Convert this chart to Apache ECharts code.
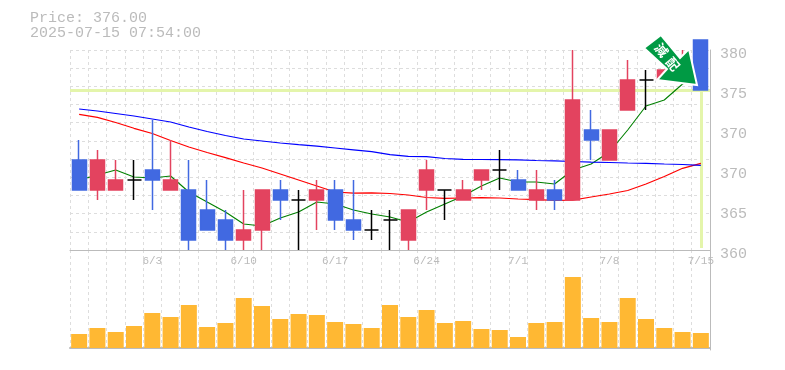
<!DOCTYPE html>
<html><head><meta charset="utf-8">
<style>html,body{margin:0;padding:0;background:#fff}#c{width:785px;height:370px}</style>
<script src="https://cdn.jsdelivr.net/npm/echarts@6/dist/echarts.min.js"></script>
</head><body><div id="c"></div>
<script>
const categories=['5/28','5/29','5/30','6/2','6/3','6/4','6/5','6/6','6/9','6/10','6/11','6/12','6/13','6/16','6/17','6/18','6/19','6/20','6/23','6/24','6/25','6/26','6/27','6/30','7/1','7/2','7/3','7/4','7/7','7/8','7/9','7/10','7/11','7/14','7/15'];
const opens =[369,366,366,367,368,366,366,364,363,361,362,366,365,365,366,363,362,363,361,366,366,365,367,368,367,365,366,365,372,369,374,377,377,378,381];
const closes=[366,369,367,367,367,367,361,362,361,362,366,365,365,366,363,362,362,363,364,368,366,366,368,368,366,366,365,375,371,372,377,377,378,379,376];
const lows  =[366,365,366,365,364,366,360,362,360,360,360,363,360,362,362,361,361,360,360,364,363,365,366,366,366,364,364,365,369,369,374,374,377,377,376];
const highs =[371,370,369,369,373,371,369,367,364,366,366,367,366,367,367,367,364,364,364,369,366,367,368,370,368,368,367,380,374,372,379,378,378,380,381];
const ma5 =[367.0,367.5,368.0,367.3,367.2,367.4,365.8,364.8,363.8,362.6,362.4,363.2,363.8,364.8,364.6,364.0,363.6,363.3,362.8,363.8,364.6,365.4,366.4,367.2,366.8,366.8,366.6,368.0,368.6,369.8,372.0,374.4,375.0,376.6,377.4];
const ma25=[373.57,373.27,372.75,372.17,371.65,370.95,370.3,369.75,369.23,368.7,368.2,367.6,367.0,366.4,365.8,365.68,365.72,365.65,365.5,365.25,365.17,365.2,365.23,365.2,365.1,365.04,364.97,364.98,365.3,365.6,365.95,366.6,367.35,368.17,368.67];
const ma75=[374.1,373.9,373.65,373.4,373.1,372.8,372.3,371.85,371.45,371.1,370.9,370.7,370.53,370.38,370.2,370.02,369.83,369.53,369.37,369.34,369.15,369.07,369.05,369.04,369.01,368.95,368.91,368.85,368.78,368.75,368.7,368.66,368.6,368.55,368.47];
const volumes=[14,20,16,22,35,31,43,21,25,50,42,29,34,33,26,24,20,43,31,38,25,27,19,18,11,25,26,71,30,26,50,29,20,16,15];
const priceTickLabels=['360','365','370','370','375','380'];
const currentPrice=376;
const titleLines=['Price: 376.00','2025-07-15 07:54:00'];

const RED='#e3435f',BLUE='#4169e1',GREY='#bbbbbb',GRID='#dddddd',MONO='"Liberation Mono",monospace';
const candleData=opens.map((o,i)=>{
  const item={value:[o,closes[i],lows[i],highs[i]]};
  if(o===closes[i]) item.itemStyle={color:'#000',color0:'#000',borderColor:'#000',borderColor0:'#000',borderColorDoji:'#000'};
  return item;
});
const vSplit={show:true,interval:0,lineStyle:{color:GRID,type:[3,3],width:1}};
const line=(name,data,color,width)=>({name,type:'line',data,symbol:'none',smooth:false,z:3,
  lineStyle:{color,width},silent:true,animation:false,clip:false});
const option={
  animation:false,backgroundColor:'#fff',
  title:{text:titleLines.join('\n'),left:25,top:6,textStyle:{fontFamily:MONO,fontSize:15,fontWeight:'normal',color:GREY,lineHeight:15}},
  grid:[{left:70,top:50,width:640,height:200,show:false},{left:70,top:250,width:640,height:100,show:false}],
  xAxis:[
    {type:'category',gridIndex:0,data:categories,boundaryGap:true,axisLine:{show:true,lineStyle:{color:GREY,width:1}},axisTick:{show:false},splitLine:vSplit,
     axisLabel:{show:true,interval:i=>i%5===4,color:GREY,fontFamily:MONO,fontSize:11,margin:6,hideOverlap:false}},
    {type:'category',gridIndex:1,data:categories,boundaryGap:true,axisLine:{show:true,lineStyle:{color:GREY,width:2}},axisTick:{show:false},axisLabel:{show:false},splitLine:vSplit}
  ],
  yAxis:[
    {type:'value',gridIndex:0,min:360,max:380,interval:4,position:'right',splitLine:{show:false},axisTick:{show:false},
     axisLine:{show:true,lineStyle:{color:GREY,width:1}},
     axisLabel:{color:GREY,fontFamily:MONO,fontSize:15,margin:10,verticalAlign:'top',lineHeight:8,formatter:v=>priceTickLabels[Math.round((v-360)/4)]}},
    {type:'value',gridIndex:0,min:0,max:11,interval:1,position:'left',axisLine:{show:false},axisTick:{show:false},axisLabel:{show:false},
     splitLine:{show:true,lineStyle:{color:GRID,type:[3,3],width:1}}},
    {type:'value',gridIndex:1,min:-2,max:98,position:'right',axisLine:{show:true,lineStyle:{color:GREY,width:1}},axisTick:{show:false},axisLabel:{show:false},splitLine:{show:false}}
  ],
  series:[
    {type:'line',name:'marks',data:[],xAxisIndex:0,yAxisIndex:0,z:1,silent:true,
     markLine:{silent:true,symbol:'none',label:{show:false},animation:false,z:1,
       lineStyle:{color:'#e4f5ab',width:3,type:'solid'},
       data:[{yAxis:currentPrice},[{coord:[categories[34],currentPrice]},{coord:[categories[34],360.2]}]]}},
    line('MA5',ma5,'#008000',1.1),
    line('MA25',ma25,'#ff0000',1.2),
    line('MA75',ma75,'#0000ff',1.2),
    {type:'candlestick',name:'Price',xAxisIndex:0,yAxisIndex:0,data:candleData,barWidth:14.5,clip:false,z:4,silent:true,
     itemStyle:{color:RED,color0:BLUE,borderColor:RED,borderColor0:BLUE,borderWidth:1.5}},
    {type:'bar',name:'Volume',xAxisIndex:1,yAxisIndex:2,data:volumes,barWidth:16,silent:true,itemStyle:{color:'#ffb833'}}
  ],
  graphic:[
    {type:'polygon',z:20,shape:{points:[[644,48],[661,35],[680,58],[689,49],[697,85],[657,80],[667,69]]},
     style:{fill:'#009a44',stroke:'#fff',lineWidth:2}},
    {type:'text',z:21,x:661.5,y:50,rotation:-Math.PI/3.6,originX:0,originY:0,
     style:{text:'減',x:0,y:0,fill:'#fff',font:'bold 13px "Noto Sans CJK JP"',align:'center',verticalAlign:'middle'}},
    {type:'text',z:21,x:673,y:64,rotation:-Math.PI/3.6,originX:0,originY:0,
     style:{text:'配',x:0,y:0,fill:'#fff',font:'bold 13px "Noto Sans CJK JP"',align:'center',verticalAlign:'middle'}}
  ]
};
const chart=echarts.init(document.getElementById('c'),null,{renderer:'canvas'});
chart.setOption(option);
</script></body></html>
